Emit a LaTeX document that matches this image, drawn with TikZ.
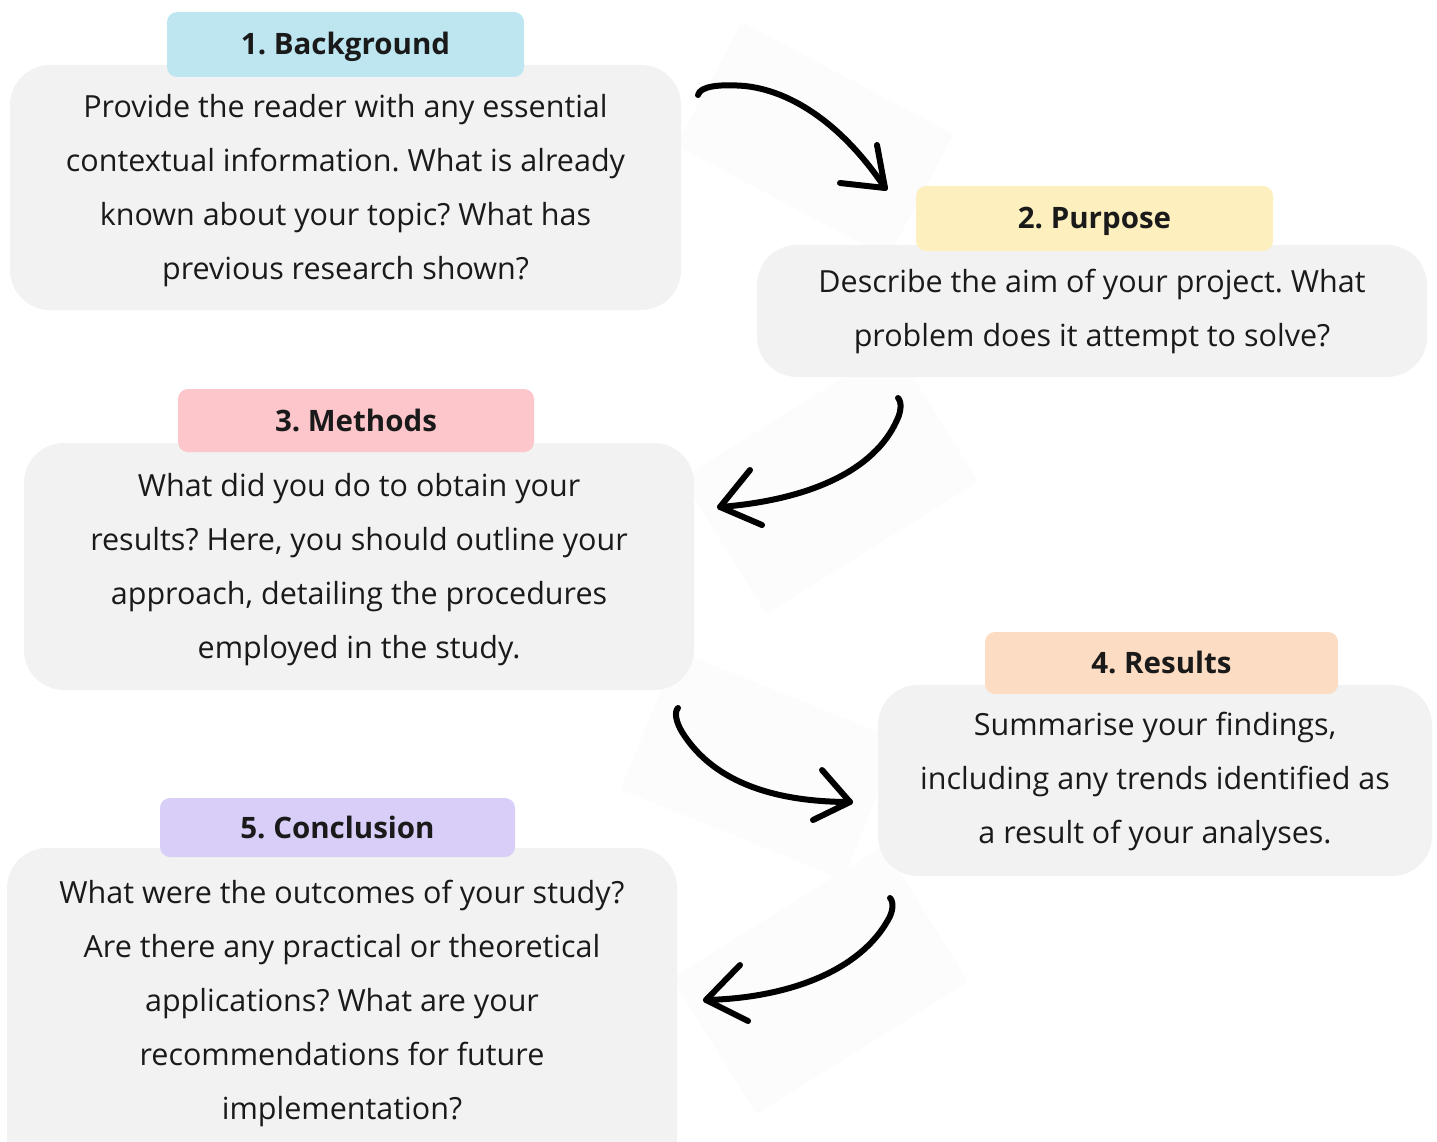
\documentclass[tikz,border=0pt]{standalone}
\usepackage{fontspec}
\setmainfont{Open Sans}
\frenchspacing
\definecolor{boxgray}{HTML}{F2F2F2}
\definecolor{hblue}{HTML}{BEE6F0}
\definecolor{hyellow}{HTML}{FDF0BE}
\definecolor{hpink}{HTML}{FCC6CA}
\definecolor{hpeach}{HTML}{FCDCC2}
\definecolor{hlav}{HTML}{D8CEF8}
\definecolor{ink}{HTML}{1A1A1A}
\definecolor{faint}{HTML}{FCFCFC}
\begin{document}
\begin{tikzpicture}[x=1pt,y=-1pt,
  graybox/.style={fill=boxgray, rounded corners=40pt, inner sep=0pt},
  headbox/.style={rounded corners=10pt, inner sep=0pt, text height=21pt, text depth=0pt, font=\fontsize{29.5}{34}\selectfont\bfseries, text=ink},
  bodytext/.style={align=center, inner sep=0pt, text=ink, font=\fontsize{30.5}{54}\selectfont},
  curvearrow/.style={line width=6pt, line cap=round, line join=round, black}
]
\useasboundingbox (0,0) rectangle (1437,1142);
\clip (0,0) rectangle (1437,1142);

% faint patches behind arrows
\fill[faint, rotate around={-28:(815,140)}] (695,70) rectangle (935,210);
\fill[faint, rotate around={32:(830,480)}] (705,400) rectangle (955,560);
\fill[faint, rotate around={-22:(760,765)}] (640,690) rectangle (880,840);
\fill[faint, rotate around={32:(820,980)}] (695,900) rectangle (945,1060);

% boxes
\node[graybox, minimum width=671pt, minimum height=245pt] (b1) at (345.5,187.5) {};
\node[headbox, fill=hblue, minimum width=357pt, minimum height=65pt] (h1) at (345.5,44.5) {1. Background};
\node[bodytext] (t1) at (345.5,191) {Provide the reader with any essential\\contextual information. What is already\\known about your topic? What has\\previous research shown?};

\node[graybox, minimum width=670pt, minimum height=132pt] (b2) at (1092,311) {};
\node[headbox, fill=hyellow, minimum width=357pt, minimum height=65pt] (h2) at (1094.5,218.5) {2. Purpose};
\node[bodytext] (t2) at (1092,311.5) {Describe the aim of your project. What\\problem does it attempt to solve?};

\node[graybox, minimum width=670pt, minimum height=247pt] (b3) at (359,566.5) {};
\node[headbox, fill=hpink, minimum width=356pt, minimum height=63pt] (h3) at (356,420.5) {3. Methods};
\node[bodytext] (t3) at (359,570) {What did you do to obtain your\\results? Here, you should outline your\\approach, detailing the procedures\\employed in the study.};

\node[graybox, minimum width=554pt, minimum height=191pt] (b4) at (1155,780.5) {};
\node[headbox, fill=hpeach, minimum width=353pt, minimum height=62pt] (h4) at (1161.5,663) {4. Results};
\node[bodytext] (t4) at (1155,781) {Summarise your findings,\\including any trends identified as\\a result of your analyses.};

\node[graybox, minimum width=670pt, minimum height=330pt] (b5) at (342,1013) {};
\node[headbox, fill=hlav, minimum width=355pt, minimum height=59pt] (h5) at (337.5,827.5) {5. Conclusion};
\node[bodytext] (t5) at (342,1003) {What were the outcomes of your study?\\Are there any practical or theoretical\\applications? What are your\\recommendations for future\\implementation?};

% arrow 1
\coordinate (a1s) at (698,95);
\coordinate (a1t) at (885,188);
\coordinate (a1p) at (877,145);
\coordinate (a1q) at (840,183);
\draw[curvearrow] (a1s) .. controls (700,86) and (720,84) .. (745,86)
  .. controls (800,92) and (850,135) .. (a1t);
\draw[curvearrow] (a1p) -- (a1t) -- (a1q);

% arrow 2
\coordinate (a2s) at (898,398);
\coordinate (a2t) at (720,507);
\coordinate (a2p) at (750,470);
\coordinate (a2q) at (762,525);
\draw[curvearrow] (a2s) .. controls (902,402) and (901,412) .. (897,420)
  .. controls (875,470) and (810,500) .. (a2t);
\draw[curvearrow] (a2p) -- (a2t) -- (a2q);

% arrow 3
\coordinate (a3s) at (678,708);
\coordinate (a3t) at (850,802);
\coordinate (a3p) at (822,770);
\coordinate (a3q) at (813,820);
\draw[curvearrow] (a3s) .. controls (674,712) and (676,722) .. (682,732)
  .. controls (715,785) and (780,802) .. (a3t);
\draw[curvearrow] (a3p) -- (a3t) -- (a3q);

% arrow 4
\coordinate (a4s) at (890,898);
\coordinate (a4t) at (706,1000);
\coordinate (a4p) at (740,965);
\coordinate (a4q) at (748,1021);
\draw[curvearrow] (a4s) .. controls (894,902) and (893,912) .. (888,920)
  .. controls (860,970) and (790,998) .. (a4t);
\draw[curvearrow] (a4p) -- (a4t) -- (a4q);
\end{tikzpicture}
\end{document}
